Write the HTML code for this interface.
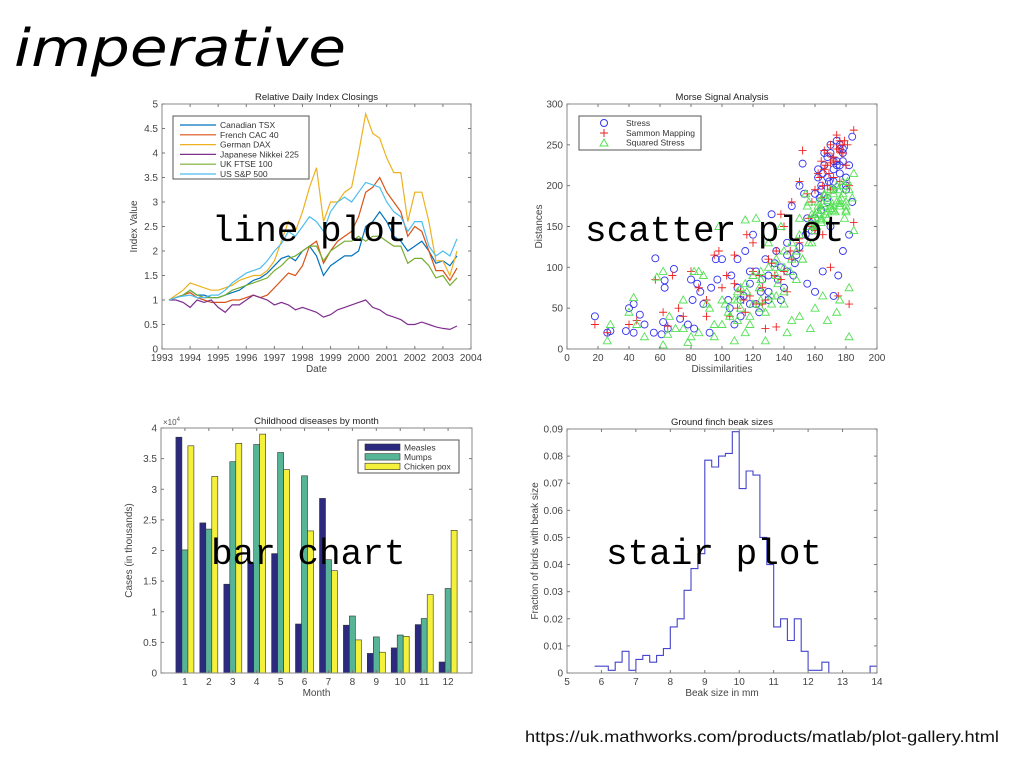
<!DOCTYPE html>
<html><head><meta charset="utf-8">
<style>
html,body{margin:0;padding:0;background:#fff;}
body{width:1024px;height:768px;overflow:hidden;position:relative;font-family:"Liberation Sans",sans-serif;}
svg{position:absolute;left:0;top:0;}
.ov{position:absolute;font-family:"Liberation Mono",monospace;font-size:36px;color:#000;white-space:nowrap;line-height:1;}
</style></head>
<body>
<svg id="s" width="1024" height="768">
<text x="14" y="66" font-family="DejaVu Sans, sans-serif" font-style="italic" font-weight="300" font-size="52" textLength="332" lengthAdjust="spacingAndGlyphs" fill="#000">imperative</text>
<text x="525" y="742" font-family="Liberation Sans, sans-serif" font-size="15.5" textLength="474" lengthAdjust="spacingAndGlyphs" fill="#111">https://uk.mathworks.com/products/matlab/plot-gallery.html</text>
</svg>
<div class="ov" style="left:212px;top:214px">line plot</div>
<div class="ov" style="left:585px;top:214px">scatter plot</div>
<div class="ov" style="left:211px;top:537px">bar chart</div>
<div class="ov" style="left:606px;top:537px">stair plot</div>
<script>
// ---- line plot data ----
const lineStart = 1993.25, lineStep = 0.25;
const tsx = [1.0,1.05,1.1,1.2,1.1,1.1,1.05,1.05,1.1,1.15,1.2,1.3,1.4,1.45,1.55,1.7,1.85,1.9,1.8,2.0,2.1,1.9,1.5,1.7,1.8,1.9,1.9,2.0,2.5,2.6,2.8,2.6,2.3,2.2,2.0,2.1,2.2,2.0,1.75,1.8,1.7,1.9];
const cac = [1.0,1.05,1.1,1.15,1.05,1.0,0.95,0.95,0.95,1.0,1.0,1.05,1.1,1.05,1.1,1.25,1.4,1.55,1.5,1.7,2.1,2.2,1.75,2.0,2.2,2.3,2.4,2.7,3.2,3.3,3.5,3.2,3.0,2.8,2.3,2.5,2.4,2.0,1.6,1.6,1.4,1.65];
const dax = [1.0,1.1,1.2,1.35,1.3,1.25,1.2,1.2,1.25,1.3,1.4,1.45,1.5,1.5,1.6,1.8,2.2,2.6,2.4,2.8,3.3,3.7,2.6,3.0,3.0,3.2,3.3,4.0,4.8,4.4,4.3,3.9,3.6,3.6,2.6,3.2,3.2,2.6,1.8,1.8,1.5,2.0];
const nikkei = [1.0,1.0,0.95,0.85,1.0,0.95,1.0,0.85,0.75,0.9,0.9,1.0,1.1,1.05,1.0,0.9,0.95,0.9,0.8,0.85,0.8,0.75,0.65,0.7,0.8,0.85,0.9,0.95,1.0,0.85,0.8,0.7,0.65,0.6,0.5,0.5,0.55,0.5,0.45,0.42,0.4,0.47];
const ftse = [1.0,1.05,1.1,1.2,1.1,1.05,1.05,1.05,1.1,1.2,1.25,1.3,1.35,1.4,1.45,1.6,1.7,1.85,1.9,2.0,2.1,2.1,1.8,2.0,2.1,2.2,2.2,2.3,2.2,2.3,2.3,2.2,2.1,2.1,1.75,1.85,1.85,1.7,1.45,1.5,1.3,1.45];
const sp500 = [1.0,1.05,1.08,1.1,1.05,1.05,1.1,1.1,1.2,1.35,1.45,1.55,1.6,1.65,1.8,2.0,2.15,2.4,2.3,2.5,2.7,2.6,2.4,2.8,3.0,3.1,3.0,3.2,3.4,3.35,3.3,3.0,2.8,2.7,2.4,2.6,2.6,2.1,1.9,2.0,1.9,2.25];
const lineNames = ["Canadian TSX","French CAC 40","German DAX","Japanese Nikkei 225","UK FTSE 100","US S&P 500"];
const lineXTicks = [1993,1994,1995,1996,1997,1998,1999,2000,2001,2002,2003,2004];
const lineYTicks = [0,0.5,1,1.5,2,2.5,3,3.5,4,4.5,5];
// ---- scatter data ----
const stressX = [18,26,28,38,40,43,43,47,50,56,57,61,62,63,63,65,69,73,78,80,81,82,84,86,88,92,93,96,97,100,104,106,108,110,112,115,118,120,122,125,128,130,132,135,138,140,142,145,147,150,152,153,155,158,160,162,164,166,168,170,172,174,176,178,180,182,184,184,178,175,172,165,160,155,170,168,165,172,176,180,163,169,174,178,
 105,110,114,118,122,126,130,134,138,142,146,150,112,118,124,130,136,142,148,154,160,164,168,172,176,180,162,166,170,174,178,182,164,168,172,176];
const stressY = [40,20,22,22,50,55,20,42,30,20,111,18,33,84,75,25,98,37,30,85,60,25,80,70,55,20,75,110,85,110,60,90,30,110,60,120,80,140,95,70,110,90,165,120,100,75,130,175,105,200,227,190,160,145,190,210,200,225,235,240,220,255,245,230,210,140,260,180,120,90,65,95,70,80,150,180,215,230,250,200,185,205,225,240,
 50,75,65,95,55,85,70,105,60,115,90,125,40,55,45,60,85,95,115,140,160,195,210,205,225,195,220,240,250,230,245,225,170,185,195,215];
const sammonX = [18,26,40,45,57,62,68,72,80,85,90,95,98,103,108,112,116,120,124,128,130,135,138,140,145,150,152,155,158,160,162,164,166,168,170,172,174,176,178,180,182,185,185,182,175,170,165,160,150,145,140,135,128,122,115,105,100,90,75,65,166,170,174,178,172,168,
 108,114,120,126,132,138,144,150,156,110,118,126,134,142,150,158,163,167,171,175,179,165,169,173,177,181,164,170,176];
const sammonY = [30,20,30,35,85,45,90,50,95,75,60,115,120,90,115,70,140,130,90,25,110,120,165,150,180,205,243,190,180,195,215,230,243,240,250,235,262,255,240,225,200,268,155,55,65,100,140,145,130,110,95,27,60,55,45,40,75,40,40,28,220,228,245,250,210,200,
 80,60,95,75,105,85,120,135,160,50,65,55,90,70,120,150,210,225,235,245,255,200,215,230,240,250,185,195,205];
const sqX = [26,28,40,43,45,50,58,62,62,66,70,75,78,80,82,85,88,90,92,95,98,100,105,108,110,112,115,118,120,122,125,128,130,132,135,138,140,142,145,148,150,152,155,157,158,160,162,164,166,168,170,172,174,176,178,180,182,182,185,185,174,165,160,150,140,135,125,118,110,102,95,85,75,65,160,163,166,169,172,175,178,181,162,165,168,171,174,177,180,158,161,164,167,170,173,176,179,155,150,145,140,135,130,125,120,115,110,
 100,104,108,112,116,120,124,128,132,136,140,144,148,152,156,160,164,168,172,176,180,184,154,158,162,166,170,174,178,182,156,160,164,168,172,176,180,115,125,135,145];
const sqY = [10,30,45,63,30,15,88,95,5,40,25,60,8,15,95,95,90,55,50,15,150,30,40,10,60,75,20,40,90,160,60,10,130,55,90,150,100,20,35,120,160,110,175,25,130,165,180,170,190,35,175,195,200,60,190,170,15,75,215,145,45,65,50,40,55,65,50,30,35,55,30,20,25,18,155,165,175,185,190,195,200,205,170,178,182,170,180,185,175,160,150,160,165,172,168,178,160,150,140,130,120,110,100,95,90,80,70,60,
 45,60,50,70,55,75,45,65,80,70,95,85,110,130,145,155,160,170,175,180,185,190,165,175,188,195,200,205,195,180,150,158,168,175,182,168,158,85,100,110,125];
// ---- bar data ----
const months = [1,2,3,4,5,6,7,8,9,10,11,12];
const measles = [3.85,2.45,1.45,1.8,1.95,0.8,2.85,0.78,0.32,0.41,0.79,0.18];
const mumps = [2.01,2.35,3.45,3.73,3.6,3.22,1.85,0.93,0.59,0.62,0.89,1.38];
const chickenpox = [3.71,3.21,3.75,3.9,3.32,2.32,1.67,0.54,0.34,0.6,1.28,2.33];
const barYTicks = [0,0.5,1,1.5,2,2.5,3,3.5,4];
// ---- stair data ----
const stairStart = 5.8, stairWidth = 0.2;
const beakFrac = [0.0025,0.0025,0.001,0.004,0.008,0.001,0.005,0.0065,0.004,0.0065,0.009,0.017,0.020,0.0305,0.0385,0.044,0.0785,0.076,0.080,0.081,0.089,0.068,0.0745,0.073,0.050,0.040,0.017,0.020,0.012,0.020,0.008,0.001,0.001,0.004,0,0,0,0,0,0,0.0025];
const stairXTicks = [5,6,7,8,9,10,11,12,13,14];
const stairYTicks = [0,0.01,0.02,0.03,0.04,0.05,0.06,0.07,0.08,0.09];

const svg = document.getElementById('s');
const NS = 'http://www.w3.org/2000/svg';
function mk(tag, attrs, parent){
  const e = document.createElementNS(NS, tag);
  for (const k in attrs) e.setAttribute(k, attrs[k]);
  (parent||svg).appendChild(e);
  return e;
}
function scale(d0,d1,r0,r1){ return v => r0 + (v-d0)/(d1-d0)*(r1-r0); }

function axes(g, box, sx, sy, xt, yt, xlab, ylab, title, xfmt, yfmt){
  const [L,T,R,B] = box;
  const rect = mk('rect',{x:L,y:T,width:R-L,height:B-T,fill:'none',stroke:'#8a8a8a','stroke-width':1},g);
  
  
  xt.forEach(v=>{
    const x = sx(v);
    mk('line',{x1:x,y1:B,x2:x,y2:B-3,stroke:'#777'},g);
    mk('line',{x1:x,y1:T,x2:x,y2:T+3,stroke:'#777'},g);
    const t = mk('text',{x:x,y:B+12,'font-size':10,'text-anchor':'middle',fill:'#444'},g);
    t.textContent = xfmt ? xfmt(v) : v;
    
    
  });
  yt.forEach(v=>{
    const y = sy(v);
    mk('line',{x1:L,y1:y,x2:L+3,y2:y,stroke:'#777'},g);
    mk('line',{x1:R,y1:y,x2:R-3,y2:y,stroke:'#777'},g);
    const t = mk('text',{x:L-4,y:y+3.5,'font-size':10,'text-anchor':'end',fill:'#444'},g);
    t.textContent = yfmt ? yfmt(v) : v;
    
    
  });
  const xl = mk('text',{x:(L+R)/2,y:B+23,'font-size':10,'text-anchor':'middle',fill:'#444'},g);
  xl.textContent = xlab;
  
  
  const yl = mk('text',{x:0,y:0,'font-size':10,'text-anchor':'middle',fill:'#444',transform:`translate(${L-(yfmt?29:25)},${(T+B)/2}) rotate(-90)`},g);
  yl.textContent = ylab;
  
  
  const tt = mk('text',{x:(L+R)/2,y:T-4,'font-size':9.5,'text-anchor':'middle',fill:'#222'},g);
  tt.textContent = title;
  
  
}

// ===== Line plot =====
(function(){
  const g = mk('g',{});
  
  
  const box=[162,104,471,349];
  const sx=scale(1993,2004,162,471), sy=scale(0,5,349,104);
  const series=[tsx,cac,dax,nikkei,ftse,sp500];
  const cols=['#0072bd','#d95319','#edb120','#7e2f8e','#77ac30','#4dbeee'];
  const names=['line-tsx','line-cac','line-dax','line-nikkei','line-ftse','line-sp500'];
  series.forEach((s,i)=>{
    const pts = s.map((v,j)=>sx(lineStart+j*lineStep).toFixed(1)+','+sy(v).toFixed(1)).join(' ');
    const p = mk('polyline',{points:pts,fill:'none',stroke:cols[i],'stroke-width':1.2},g);
    
    
  });
  axes(g,box,sx,sy,lineXTicks,lineYTicks,'Date','Index Value','Relative Daily Index Closings');
  const lg = mk('g',{},g);
  
  
  mk('rect',{x:173,y:116,width:136,height:63,fill:'#fff',stroke:'#555'},lg);
  lineNames.forEach((n,i)=>{
    const y=125+i*9.8;
    mk('line',{x1:180,y1:y,x2:216,y2:y,stroke:cols[i],'stroke-width':1.2},lg);
    const t=mk('text',{x:220,y:y+3,'font-size':8.5,fill:'#333'},lg);
    t.textContent=n;
    
    
  });
})();

// ===== Scatter =====
(function(){
  const g = mk('g',{});
  
  
  const box=[567,104,877,349];
  const sx=scale(0,200,567,877), sy=scale(0,300,349,104);
  stressX.forEach((x,i)=>{
    const c=mk('circle',{cx:sx(x),cy:sy(stressY[i]),r:3.5,fill:'none',stroke:'#3333ee','stroke-width':0.9},g);
    
    
  });
  sammonX.forEach((x,i)=>{
    const cx=sx(x), cy=sy(sammonY[i]);
    const p=mk('path',{d:`M${cx-4},${cy}H${cx+4}M${cx},${cy-4}V${cy+4}`,stroke:'#ee2222','stroke-width':0.9},g);
    
    
  });
  sqX.forEach((x,i)=>{
    const cx=sx(x), cy=sy(sqY[i]);
    const p=mk('polygon',{points:`${cx},${cy-4} ${cx-4},${cy+3} ${cx+4},${cy+3}`,fill:'none',stroke:'#55e055','stroke-width':0.9},g);
    
    
  });
  axes(g,box,sx,sy,[0,20,40,60,80,100,120,140,160,180,200],[0,50,100,150,200,250,300],'Dissimilarities','Distances','Morse Signal Analysis');
  const lg = mk('g',{},g);
  
  
  mk('rect',{x:579,y:116,width:122,height:34,fill:'#fff',stroke:'#555'},lg);
  mk('circle',{cx:604,cy:123,r:3.5,fill:'none',stroke:'#3333ee'},lg);
  mk('path',{d:'M600,133H608M604,129V137',stroke:'#ee2222'},lg);
  mk('polygon',{points:'604,139 600,146 608,146',fill:'none',stroke:'#55e055'},lg);
  ['Stress','Sammon Mapping','Squared Stress'].forEach((n,i)=>{
    const t=mk('text',{x:626,y:126+i*9.8,'font-size':8.5,fill:'#333'},lg);
    t.textContent=n;
    
    
  });
})();

// ===== Bar chart =====
(function(){
  const g = mk('g',{});
  
  
  const box=[161,428,472,673];
  const sx=scale(0,13,161,472), sy=scale(0,4,673,428);
  const series=[measles,mumps,chickenpox];
  const cols=['#2c2a7f','#56b497','#f4f03c'];
  const bw=6;
  months.forEach((m,i)=>{
    series.forEach((s,k)=>{
      const x=sx(m)+(k-1.5)*bw;
      const y=sy(s[i]);
      const r=mk('rect',{x:x.toFixed(1),y:y.toFixed(1),width:bw,height:(sy(0)-y).toFixed(1),fill:cols[k],stroke:'#333','stroke-width':0.6},g);
      
      
    });
  });
  axes(g,box,sx,sy,months,barYTicks,'Month','Cases (in thousands)','Childhood diseases by month',null,v=>v);
  const ex=mk('text',{x:163,y:425,'font-size':8,fill:'#555'},g);
  ex.textContent='×10';
  const ex2=mk('tspan',{dy:-4,'font-size':6},ex);
  ex2.textContent='4';
  
  
  const lg = mk('g',{},g);
  
  
  mk('rect',{x:358,y:440,width:101,height:33,fill:'#fff',stroke:'#555'},lg);
  ['Measles','Mumps','Chicken pox'].forEach((n,i)=>{
    const y=444+i*9.6;
    mk('rect',{x:365,y:y,width:35,height:6.5,fill:cols[i],stroke:'#333','stroke-width':0.6},lg);
    const t=mk('text',{x:404,y:y+6.5,'font-size':8.5,fill:'#333'},lg);
    t.textContent=n;
    
    
  });
})();

// ===== Stair plot =====
(function(){
  const g = mk('g',{});
  
  
  const box=[567,429,877,673];
  const sx=scale(5,14,567,877), sy=scale(0,0.09,673,429);
  let d='';
  beakFrac.forEach((v,i)=>{
    const x0=sx(stairStart+i*stairWidth), x1=sx(stairStart+(i+1)*stairWidth);
    const y=sy(v);
    d += (i===0?'M':'L')+x0.toFixed(1)+','+y.toFixed(1)+'L'+x1.toFixed(1)+','+y.toFixed(1);
  });
  const p=mk('path',{d:d,fill:'none',stroke:'#4444cc','stroke-width':1.1},g);
  
  
  axes(g,box,sx,sy,stairXTicks,stairYTicks,'Beak size in mm','Fraction of birds with beak size','Ground finch beak sizes',null,v=>v===0?'0':v.toFixed(2));
})();
</script>
</body></html>
